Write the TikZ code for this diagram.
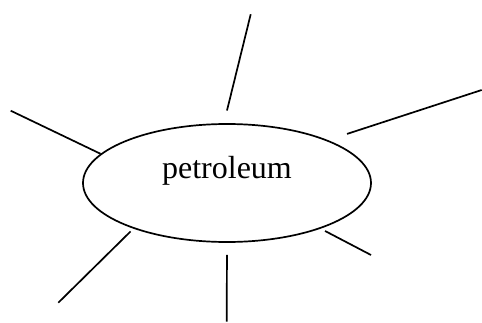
\documentclass[tikz,border=0pt]{standalone}
\usepackage{fontspec}
\setmainfont{Liberation Serif}
\usetikzlibrary{shapes.geometric}

\begin{document}
\begin{tikzpicture}[
  x=1pt, y=1pt,
  topic/.style={draw, ellipse, line width=1.7pt, minimum width=288pt, minimum height=118pt, inner sep=0pt,
    font=\fontsize{32}{38}\selectfont, text height=22pt, text depth=32pt},
  spoke/.style={line width=1.7pt},
]
  \useasboundingbox (0,0) rectangle (482,322);

  % Center
  \node[topic] (petro) at (227,139) {petroleum};

  % Free ends
  \coordinate (ul) at (10.7,211.3);
  \coordinate (tp) at (250.7,307.7);
  \coordinate (ur) at (481.7,232);
  \coordinate (lr) at (371,67);
  \coordinate (ll) at (58.3,19.3);
  \coordinate (bt) at (226.7,0.3);

  % Spokes
  \draw[spoke] (petro.167) -- (ul);
  \draw[spoke, shorten <=13pt] (petro.93) -- (tp);
  \draw[spoke, shorten <=20pt] (petro.23) -- (ur);
  \draw[spoke, shorten <=5pt] (petro.-26) -- (lr);
  \draw[spoke, shorten <=4pt] (petro.206) -- (ll);
  \draw[spoke, shorten <=12pt] (petro.south) -- (bt);
\end{tikzpicture}
\end{document}
